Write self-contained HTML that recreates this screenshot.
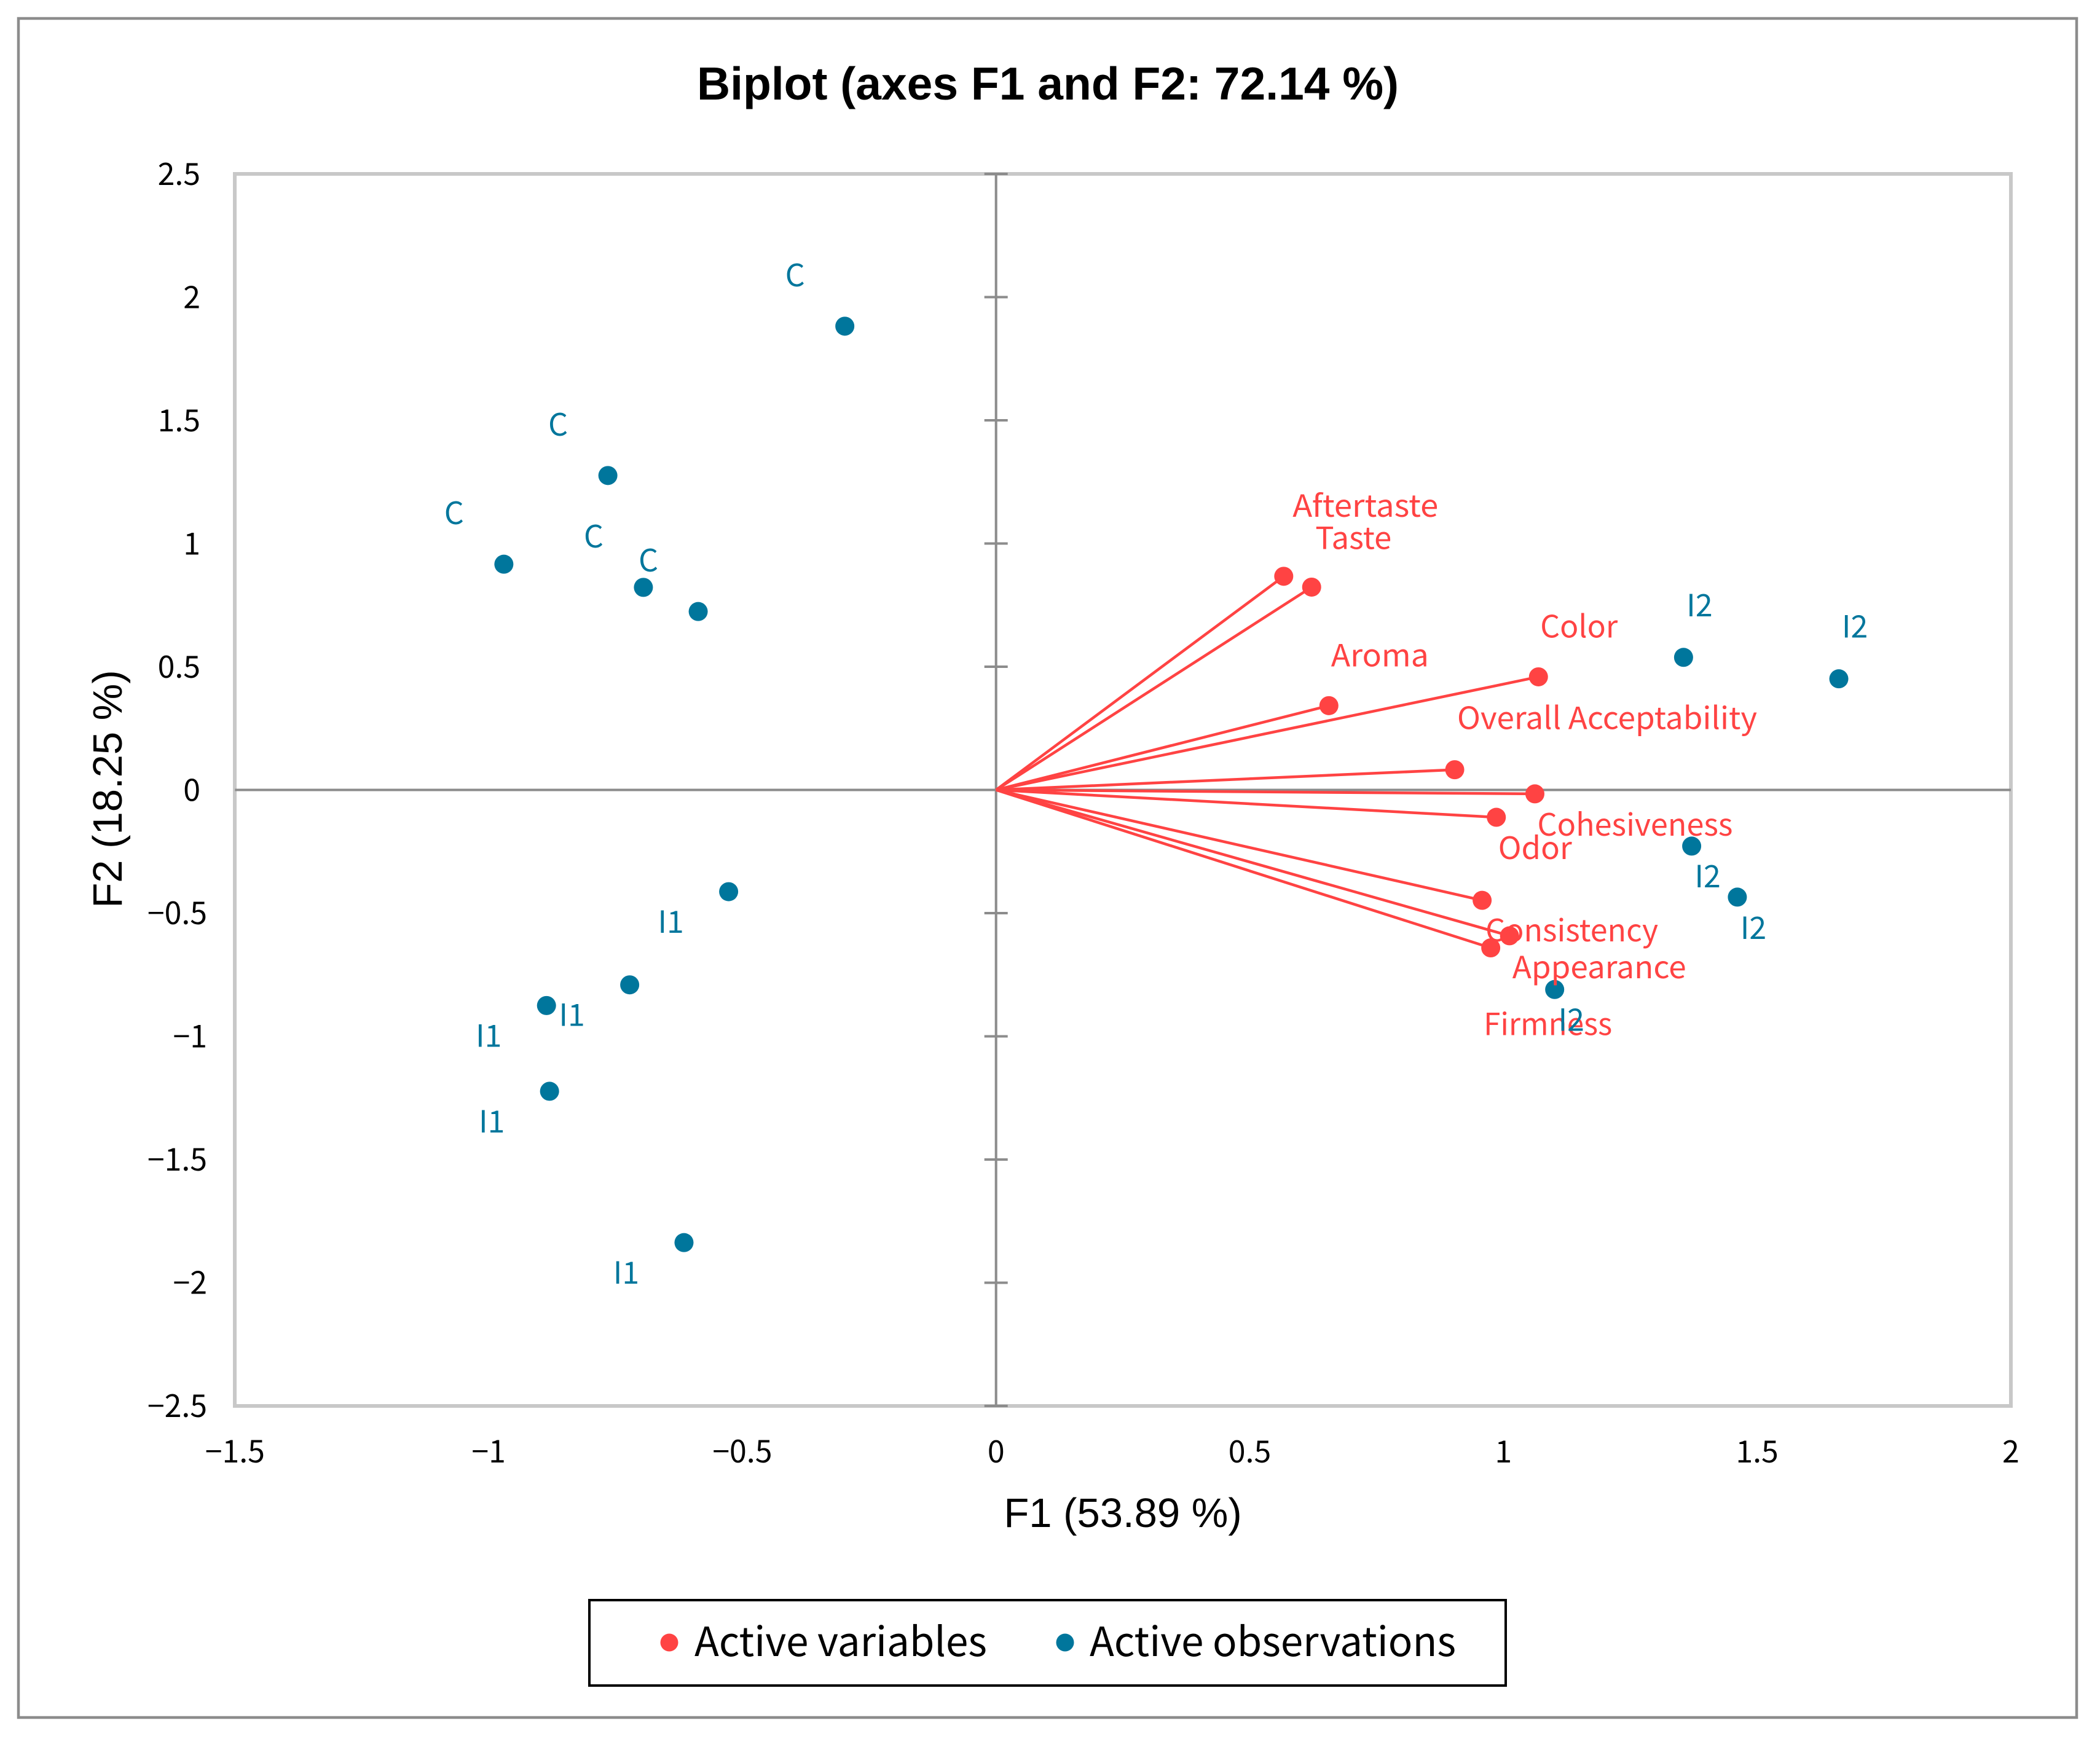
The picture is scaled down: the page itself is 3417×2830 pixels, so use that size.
<!DOCTYPE html>
<html>
<head>
<meta charset="utf-8">
<title>Biplot (axes F1 and F2: 72.14 %)</title>
<style>
html,body{margin:0;padding:0;background:#fff;}
svg{display:block;}
.seg{font-family:"Noto Sans CJK JP","Liberation Sans",sans-serif;}
.ari{font-family:"Liberation Sans",sans-serif;}
</style>
</head>
<body>
<svg id="chart" xmlns="http://www.w3.org/2000/svg" width="3417" height="2830" viewBox="0 0 3417 2830">
  <rect x="0" y="0" width="3417" height="2830" fill="#ffffff"/>
  <rect x="30" y="30" width="3349" height="2765" fill="#ffffff" stroke="#8c8c8c" stroke-width="4.5"/>
  <text class="ari" x="1705" y="162" font-size="75" font-weight="bold" text-anchor="middle" fill="#000">Biplot (axes F1 and F2: 72.14 %)</text>
  <rect x="382" y="283" width="2890" height="2005" fill="none" stroke="#c8c8c8" stroke-width="6"/>
  <g id="axes"></g>
  <g id="obs-points"></g>
  <g id="var-lines"></g>
  <g id="var-points"></g>
  <g id="var-labels"></g>
  <g id="obs-labels"></g>
  <text class="ari" x="1827" y="2485" font-size="67" text-anchor="middle" fill="#000">F1 (53.89 %)</text>
  <text class="ari" x="198" y="1284" font-size="67" text-anchor="middle" fill="#000" transform="rotate(-90 198 1284)">F2 (18.25 %)</text>
  <g>
    <rect x="959" y="2604" width="1491" height="139" fill="#ffffff" stroke="#000000" stroke-width="4"/>
    <circle cx="1089" cy="2673" r="14.5" fill="#ff4343"/>
    <text class="seg" x="1130" y="2695" font-size="65.5" fill="#000">Active variables</text>
    <circle cx="1733" cy="2673" r="14.5" fill="#00769c"/>
    <text class="seg" x="1773" y="2695" font-size="65.5" fill="#000">Active observations</text>
  </g>
</svg>
<script>
// ---- chart data ----
const xTicks = [-1.5, -1, -0.5, 0, 0.5, 1, 1.5, 2];
const yTicks = [2.5, 2, 1.5, 1, 0.5, 0, -0.5, -1, -1.5, -2, -2.5];

const varNames = ["Aftertaste","Taste","Color","Aroma","Overall Acceptability","Cohesiveness","Odor","Consistency","Appearance","Firmness"];
const varF1 = [0.567, 0.622, 1.069, 0.656, 0.904, 1.062, 0.986, 0.958, 1.012, 0.975];
const varF2 = [0.867, 0.823, 0.459, 0.342, 0.082, -0.016, -0.111, -0.448, -0.592, -0.641];

const obsNames = ["C","C","C","C","C","I2","I2","I2","I2","I2","I1","I1","I1","I1","I1"];
const obsF1 = [-0.298, -0.765, -0.970, -0.695, -0.587, 1.355, 1.661, 1.371, 1.461, 1.101, -0.527, -0.722, -0.886, -0.880, -0.615];
const obsF2 = [1.882, 1.276, 0.916, 0.822, 0.724, 0.538, 0.451, -0.228, -0.435, -0.810, -0.413, -0.791, -0.875, -1.223, -1.837];

// ---- label placement (pixel offset from each mark, and rendered text width) ----
const varLabelDx = [133, 68, 66, 83, 248, 163, 63, 146, 146, 93];
const varLabelDy = [-97, -62, -64, -64, -66, 68, 68, 67, 69, 142];
const varLabelW = [237, 124, 126, 159, 488, 318, 120, 281, 283, 209];
const obsLabelDx = [-81, -81, -81, -81, -81, 26, 26, 26, 26, 27, -94, -94, -94, -94, -94];
const obsLabelDy = [-65, -65, -65, -65, -65, -67, -67, 67, 68, 67, 67, 67, 67, 67, 67];

// ---- axis functions ----
function sx(v){ return 1620.7 + v * 825.6; }
function sy(v){ return 1285.5 - v * 401; }

const NS = "http://www.w3.org/2000/svg";
function make(parent, tag, attrs, txt){
  const el = document.createElementNS(NS, tag);
  for (const k in attrs) el.setAttribute(k, attrs[k]);
  if (txt !== undefined) el.textContent = txt;
  parent.appendChild(el);
  return el;
}
function fmt(v){ return v < 0 ? "\u2212" + Math.abs(v) : String(v); }

const axes = document.getElementById("axes");
let el;
el = make(axes, "line", {x1: sx(-1.5), x2: sx(2), y1: sy(0), y2: sy(0), stroke: "#8c8c8c", "stroke-width": 4});


el = make(axes, "line", {x1: sx(0), x2: sx(0), y1: sy(2.5), y2: sy(-2.5), stroke: "#8c8c8c", "stroke-width": 4});



yTicks.forEach(function(t){
  if (t !== 0) {
    const tk = make(axes, "line", {x1: sx(0) - 19, x2: sx(0) + 19, y1: sy(t), y2: sy(t), stroke: "#8c8c8c", "stroke-width": 4});
    
    
  }
  const lb = make(axes, "text", {"class": "seg", x: t < 0 ? 337 : 326, y: sy(t) + 18, "font-size": 50, "text-anchor": "end", fill: "#000"}, fmt(t));
  
  
});
xTicks.forEach(function(t){
  const lb = make(axes, "text", {"class": "seg", x: sx(t), y: 2380, "font-size": 50, "text-anchor": "middle", fill: "#000"}, fmt(t));
  
  
});

const obsPts = document.getElementById("obs-points");
const obsLbs = document.getElementById("obs-labels");
obsNames.forEach(function(n, i){
  const c = make(obsPts, "circle", {cx: sx(obsF1[i]), cy: sy(obsF2[i]), r: 15.5, fill: "#00769c"});
  
  
  const t = make(obsLbs, "text", {"class": "seg", x: sx(obsF1[i]) + obsLabelDx[i], y: sy(obsF2[i]) + obsLabelDy[i], "font-size": 50, "text-anchor": "middle", fill: "#00769c"}, n);
  
  
});

const varLines = document.getElementById("var-lines");
const varPts = document.getElementById("var-points");
const varLbs = document.getElementById("var-labels");
varNames.forEach(function(n, i){
  const l = make(varLines, "line", {x1: sx(0), y1: sy(0), x2: sx(varF1[i]), y2: sy(varF2[i]), stroke: "#ff4343", "stroke-width": 4.5});
  
  
  const c = make(varPts, "circle", {cx: sx(varF1[i]), cy: sy(varF2[i]), r: 15.5, fill: "#ff4343"});
  
  
  const t = make(varLbs, "text", {"class": "seg", x: sx(varF1[i]) + varLabelDx[i], y: sy(varF2[i]) + varLabelDy[i], "font-size": 50, "text-anchor": "middle", textLength: varLabelW[i], lengthAdjust: "spacingAndGlyphs", fill: "#ff4343"}, n);
  
  
});
</script>
</body>
</html>
